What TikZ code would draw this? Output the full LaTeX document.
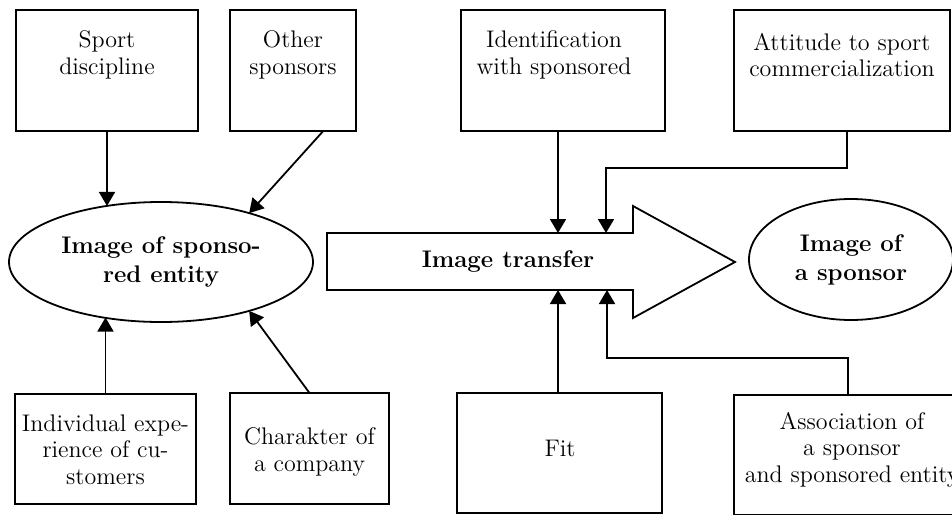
\documentclass[tikz,border=0pt]{standalone}
\usetikzlibrary{shapes.geometric,arrows.meta,calc}
\begin{document}
\begin{tikzpicture}[x=0.5pt,y=-0.5pt,
  box/.style={draw, line width=0.9pt, inner sep=0pt, outer sep=0pt},
  txt/.style={align=center, font=\fontsize{12}{13.3}\selectfont, inner sep=0pt},
  oval/.style={ellipse, draw, line width=0.9pt, inner sep=0pt, outer sep=0pt, align=center, font=\fontsize{12}{14.5}\selectfont\bfseries},
  arr/.style={line width=0.9pt, -{Triangle[length=7pt,width=8pt]}},
  ln/.style={line width=0.9pt}]
\useasboundingbox (0,0) rectangle (952,514);
\clip (0,0) rectangle (952,514);
% top boxes
\node[box, minimum width=91pt, minimum height=60.5pt] (sd) at (107,70.5) {};
\node[txt] (sdt) at (107,55) {Sport\\discipline};
\node[box, minimum width=63pt, minimum height=60.5pt] (os) at (293,70.5) {};
\node[txt] (ost) at (293,55) {Other\\sponsors};
\node[box, minimum width=102pt, minimum height=60.5pt] (id) at (563,70.5) {};
\node[txt] (idt) at (554,55) {Identification\\with sponsored};
\node[box, minimum width=108pt, minimum height=60.5pt] (at) at (842,70.5) {};
\node[txt] (att) at (842,55) {Attitude to sport\\commercialization};
% bottom boxes
\node[box, minimum width=90.5pt, minimum height=55pt] (ie) at (105.5,449) {};
\node[txt] (iet) at (105.5,449.5) {Individual expe-\\rience of cu-\\stomers};
\node[box, minimum width=79.5pt, minimum height=55.5pt] (ch) at (309.5,448.5) {};
\node[txt] (cht) at (309.5,452) {Charakter of\\a company};
\node[box, minimum width=102.5pt, minimum height=60pt] (fit) at (559.5,453) {};
\node[txt] (fitt) at (560,448) {Fit};
\node[box, minimum width=116pt, minimum height=60pt] (as) at (850,455) {};
\node[txt] (ast) at (852,449.5) {Association of\\a sponsor\\and sponsored entity};
% ellipses
\node[oval, minimum width=152pt, minimum height=60pt] (ise) at (161,262) {Image of sponso-\\red entity};
\node[oval, minimum width=102pt, minimum height=60.5pt] (isp) at (851,259.5) {Image of\\a sponsor};
% big arrow
\coordinate (tA) at (558,233);
\coordinate (tB) at (606,233);
\coordinate (bA) at (558,290);
\coordinate (bB) at (607,290);
\draw[ln] (327,233) -- (633,233) -- (633,206) -- (735,262) -- (633,318) -- (633,290) -- (327,290) -- cycle;
\node[font=\fontsize{12}{14.5}\selectfont\bfseries, inner sep=0pt] (itt) at (508,262) {Image transfer};
% connectors
\draw[arr] (sd.south) -- (sd.south |- ise.134.5);
\draw[arr] ($(os.south west)!0.74!(os.south east)$) -- (ise.29.4);
\draw[arr] (ie.north) -- (ie.north |- ise.224.9);
\draw[arr] (ch.north) -- (ise.331.2);
\draw[arr] (tA |- id.south) -- (tA);
\draw[arr] ([xshift=2.5pt]at.south) -- ++(0,37) -| (tB);
\draw[arr] (bA |- fit.north) -- (bA);
\draw[arr] ([xshift=-1pt]as.north) -- ++(0,-37) -| (bB);
\end{tikzpicture}
\end{document}
